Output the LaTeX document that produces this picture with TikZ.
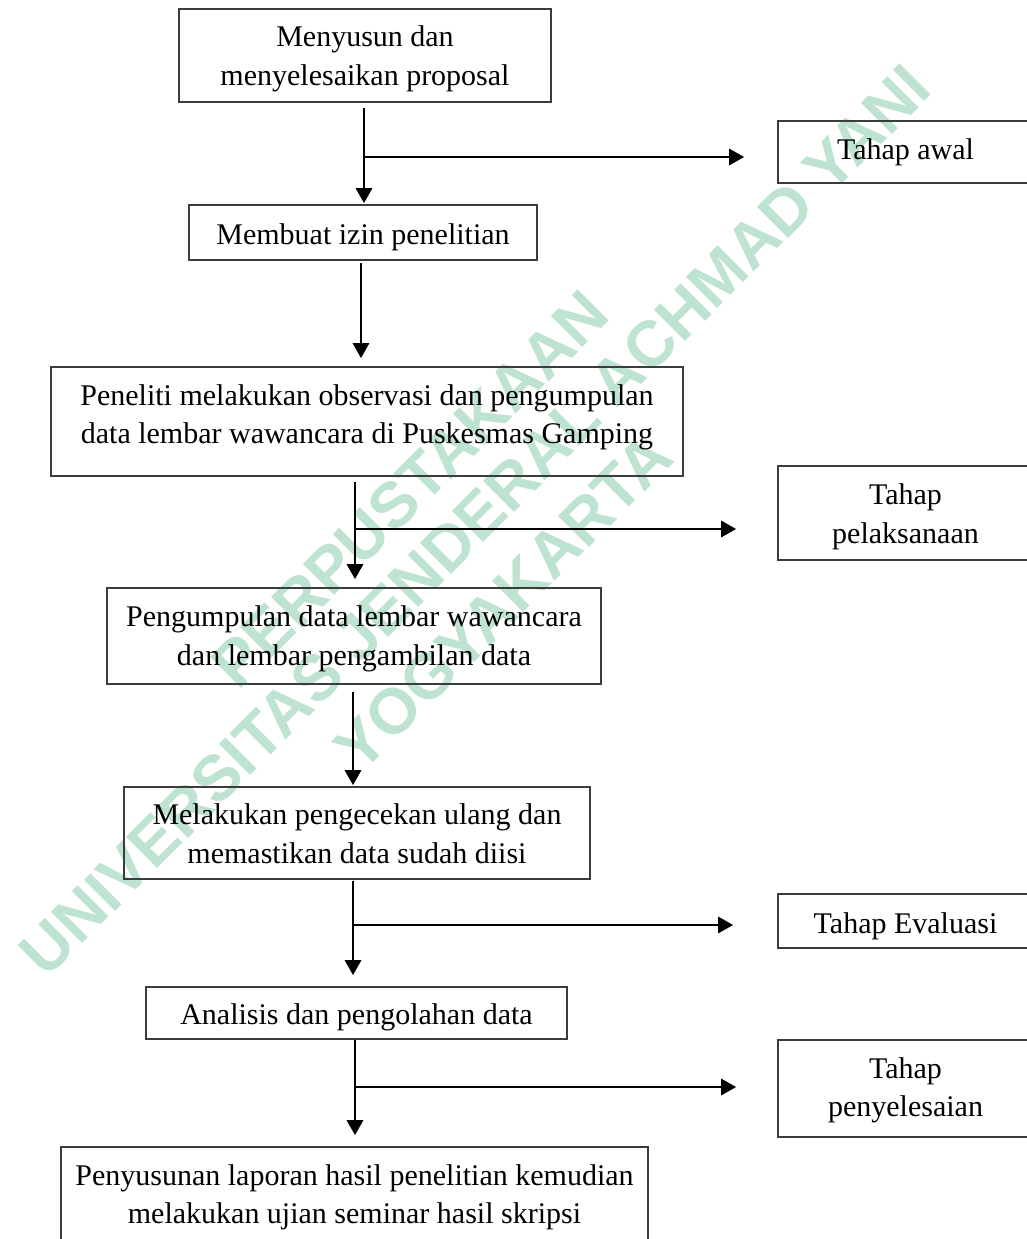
\documentclass[tikz,border=0pt]{standalone}
\usepackage{fontspec}
\setmainfont{Liberation Serif}
\newfontfamily\wmfont{Liberation Sans}
\usetikzlibrary{arrows.meta}
\definecolor{wmgreen}{RGB}{191,227,209}
\definecolor{boxline}{RGB}{60,60,60}
% text block, lowered by #1 without changing its reported size
\newcommand\tblock[2]{\raisebox{#1}[\height][\depth]{\begin{tabular}{@{}c@{}}#2\end{tabular}}}
\begin{document}
\begin{tikzpicture}[x=1pt,y=-1pt,
  box/.style={draw=boxline, line width=1.6pt, inner sep=0pt,
    font=\fontsize{30}{38.5}\selectfont, anchor=center},
  arr/.style={line width=2.8pt, -{Triangle[length=15pt,width=16pt]}},
  wm/.style={text=wmgreen, font=\wmfont\bfseries\fontsize{64}{72}\selectfont,
    rotate=45, anchor=center, inner sep=0pt}]
\useasboundingbox (0,0) rectangle (1027,1239);
\clip (0,0) rectangle (1027,1239);
\fill[white] (0,0) rectangle (1027,1239);
% watermark
\node[wm] (w1) at (410,489) {PERPUSTAKAAN};
\node[wm] (w2) at (475,520) {UNIVERSITAS JENDERAL ACHMAD YANI};
\node[wm] (w3) at (503,602) {YOGYAKARTA};
% main boxes
\node[box, minimum width=372pt, minimum height=93pt] (b1) at (365,55.5)
  {\tblock{-3pt}{Menyusun dan\\menyelesaikan proposal}};
\node[box, minimum width=348pt, minimum height=55pt] (b2) at (363,232.5)
  {\tblock{-4pt}{Membuat izin penelitian}};
\node[box, minimum width=632pt, minimum height=109pt] (b3) at (367,421.5)
  {\tblock{4.5pt}{Peneliti melakukan observasi dan pengumpulan\\data lembar wawancara di Puskesmas Gamping}};
\node[box, minimum width=494pt, minimum height=96pt] (b4) at (354,636)
  {\tblock{-2.5pt}{Pengumpulan data lembar wawancara\\dan lembar pengambilan data}};
\node[box, minimum width=466pt, minimum height=92pt] (b5) at (357,833)
  {\tblock{-3.5pt}{Melakukan pengecekan ulang dan\\memastikan data sudah diisi}};
\node[box, minimum width=421pt, minimum height=52pt] (b6) at (356.5,1013)
  {\tblock{-4pt}{Analisis dan pengolahan data}};
\node[box, minimum width=587pt, minimum height=100pt] (b7) at (354.5,1197)
  {\tblock{0pt}{Penyusunan laporan hasil penelitian kemudian\\melakukan ujian seminar hasil skripsi}};
% side boxes
\node[box, minimum width=255pt, minimum height=62pt] (r1) at (905.5,152)
  {\tblock{0pt}{Tahap awal}};
\node[box, minimum width=255pt, minimum height=94pt] (r2) at (905.5,513)
  {\tblock{-3.5pt}{Tahap\\pelaksanaan}};
\node[box, minimum width=255pt, minimum height=54pt] (r3) at (905.5,921)
  {\tblock{-5pt}{Tahap Evaluasi}};
\node[box, minimum width=255pt, minimum height=97pt] (r4) at (905.5,1088.5)
  {\tblock{-1.5pt}{Tahap\\penyelesaian}};
% connector columns and junctions
\coordinate (x1) at (364,0);
\coordinate (x2) at (361,0);
\coordinate (x3) at (355,0);
\coordinate (x4) at (353,0);
\coordinate (x5) at (353,0);
\coordinate (x6) at (355,0);
\coordinate (j1) at (364,157);
\coordinate (j3) at (355,529);
\coordinate (j5) at (353,925);
\coordinate (j6) at (355,1087);
% connectors
\draw[arr] ([yshift=-5pt]b1.south -| x1) -- ([yshift=1pt]b2.north -| x1);
\draw[arr, shorten >=33pt] (j1) -- (j1 -| r1.west);
\draw[arr] ([yshift=-2pt]b2.south -| x2) -- ([yshift=8pt]b3.north -| x2);
\draw[arr] ([yshift=-5pt]b3.south -| x3) -- ([yshift=8pt]b4.north -| x3);
\draw[arr, shorten >=41pt] (j3) -- (j3 -| r2.west);
\draw[arr] ([yshift=-7pt]b4.south -| x4) -- ([yshift=1pt]b5.north -| x4);
\draw[arr] ([yshift=-1pt]b5.south -| x5) -- ([yshift=11pt]b6.north -| x5);
\draw[arr, shorten >=44pt] (j5) -- (j5 -| r3.west);
\draw[arr] (b6.south -| x6) -- ([yshift=11pt]b7.north -| x6);
\draw[arr, shorten >=41pt] (j6) -- (j6 -| r4.west);
\end{tikzpicture}
\end{document}
